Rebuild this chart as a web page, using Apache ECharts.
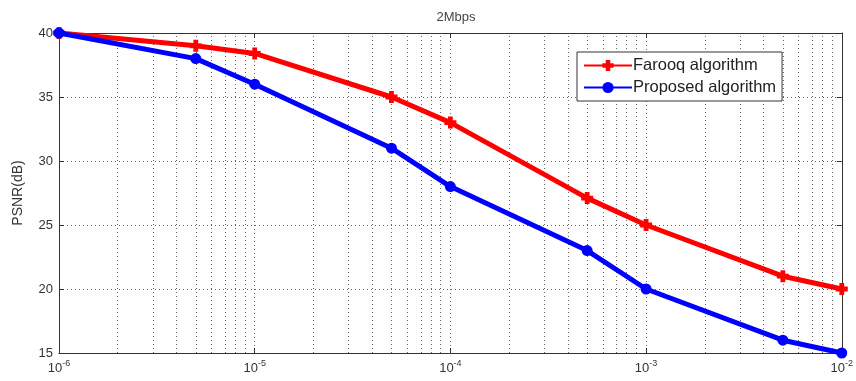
<!DOCTYPE html>
<html>
<head>
<meta charset="utf-8">
<script src="https://cdn.jsdelivr.net/npm/echarts@6/dist/echarts.min.js"></script>
<style>
  html, body { margin: 0; padding: 0; background: #fff; }
  #main { width: 856px; height: 381px; }
</style>
</head>
<body>
<div id="main"></div>
<script>
// bit error rates (x) and PSNR values
const berValues = [1e-6, 5e-6, 1e-5, 5e-5, 1e-4, 5e-4, 1e-3, 5e-3, 1e-2];
const farooqPsnr = [40, 39, 38.4, 35, 33, 27.1, 25, 21, 20];
const proposedPsnr = [40, 38, 36, 31, 28, 23, 20, 16, 15];
const decades = [-6, -5, -4, -3];
const minorSteps = [2, 3, 4, 5, 6, 7, 8, 9];

const toPoints = (ys) => berValues.map((b, i) => [Math.log10(b), ys[i]]);

const minorLines = [];
decades.forEach((d) => {
  minorSteps.forEach((k) => minorLines.push({ xAxis: Math.log10(k * Math.pow(10, d)) }));
});

const gridDots = { color: "#666", type: [1, 3], width: 1 };
const axisDark = { color: "#333", width: 1 };
const plusPath = "path://M3,0h4v3h3v4h-3v3h-4v-3h-3v-4h3z";

const chart = echarts.init(document.getElementById("main"));

chart.setOption({
  backgroundColor: "#fff",
  animation: false,
  textStyle: { fontFamily: "Liberation Sans, Arial, sans-serif" },
  title: {
    text: "2Mbps",
    left: 451,
    top: 6,
    textAlign: "center",
    textStyle: { fontSize: 13, fontWeight: "normal", color: "#444" },
  },
  legend: {
    orient: "vertical",
    left: 577,
    top: 52,
    padding: [5, 6, 5, 6],
    itemGap: 5,
    itemWidth: 48,
    itemHeight: 14,
    borderColor: "#333",
    borderWidth: 1,
    backgroundColor: "#fff",
    textStyle: { fontSize: 16.5, color: "#222", padding: [0, 0, 0, -4] },
    data: ["Farooq algorithm", "Proposed algorithm"],
  },
  grid: { left: 59, right: 13, top: 33, bottom: 28 },
  xAxis: [
    {
      type: "value",
      min: -6,
      max: -2,
      interval: 1,
      axisLine: { lineStyle: axisDark },
      axisTick: { inside: true, length: 5, lineStyle: axisDark },
      splitLine: { show: true, lineStyle: gridDots },
      axisLabel: {
        color: "#333",
        margin: 6,
        formatter: (v) => "{b|10}{s|" + v + "}",
        rich: {
          b: { fontSize: 13, color: "#333" },
          s: { fontSize: 9, color: "#333", padding: [0, 0, 9, 0] },
        },
      },
    },
    {
      type: "value",
      position: "top",
      min: -6,
      max: -2,
      interval: 1,
      axisLine: { show: true, lineStyle: axisDark },
      axisTick: { inside: true, length: 5, lineStyle: axisDark },
      axisLabel: { show: false },
      splitLine: { show: false },
    },
  ],
  yAxis: [
    {
      type: "value",
      min: 15,
      max: 40,
      interval: 5,
      name: "PSNR(dB)",
      nameLocation: "middle",
      nameGap: 34,
      nameTextStyle: { fontSize: 14, color: "#333" },
      axisLine: { show: true, lineStyle: axisDark },
      axisTick: { show: true, inside: true, length: 5, lineStyle: axisDark },
      splitLine: { show: true, lineStyle: gridDots },
      axisLabel: { color: "#333", fontSize: 13, margin: 6 },
    },
    {
      type: "value",
      position: "right",
      min: 15,
      max: 40,
      interval: 5,
      axisLine: { show: true, lineStyle: axisDark },
      axisTick: { show: true, inside: true, length: 5, lineStyle: axisDark },
      axisLabel: { show: false },
      splitLine: { show: false },
    },
  ],
  series: [
    {
      name: "Farooq algorithm",
      type: "line",
      data: toPoints(farooqPsnr),
      color: "#ff0000",
      symbol: plusPath,
      symbolSize: 12,
      lineStyle: { width: 5, color: "#ff0000" },
      z: 3,
      markLine: {
        silent: true,
        symbol: "none",
        label: { show: false },
        lineStyle: gridDots,
        data: minorLines,
        z: 1,
      },
    },
    {
      name: "Proposed algorithm",
      type: "line",
      data: toPoints(proposedPsnr),
      color: "#0000ff",
      symbol: "circle",
      symbolSize: 11,
      lineStyle: { width: 5, color: "#0000ff" },
      z: 4,
    },
  ],
});
</script>
</body>
</html>
